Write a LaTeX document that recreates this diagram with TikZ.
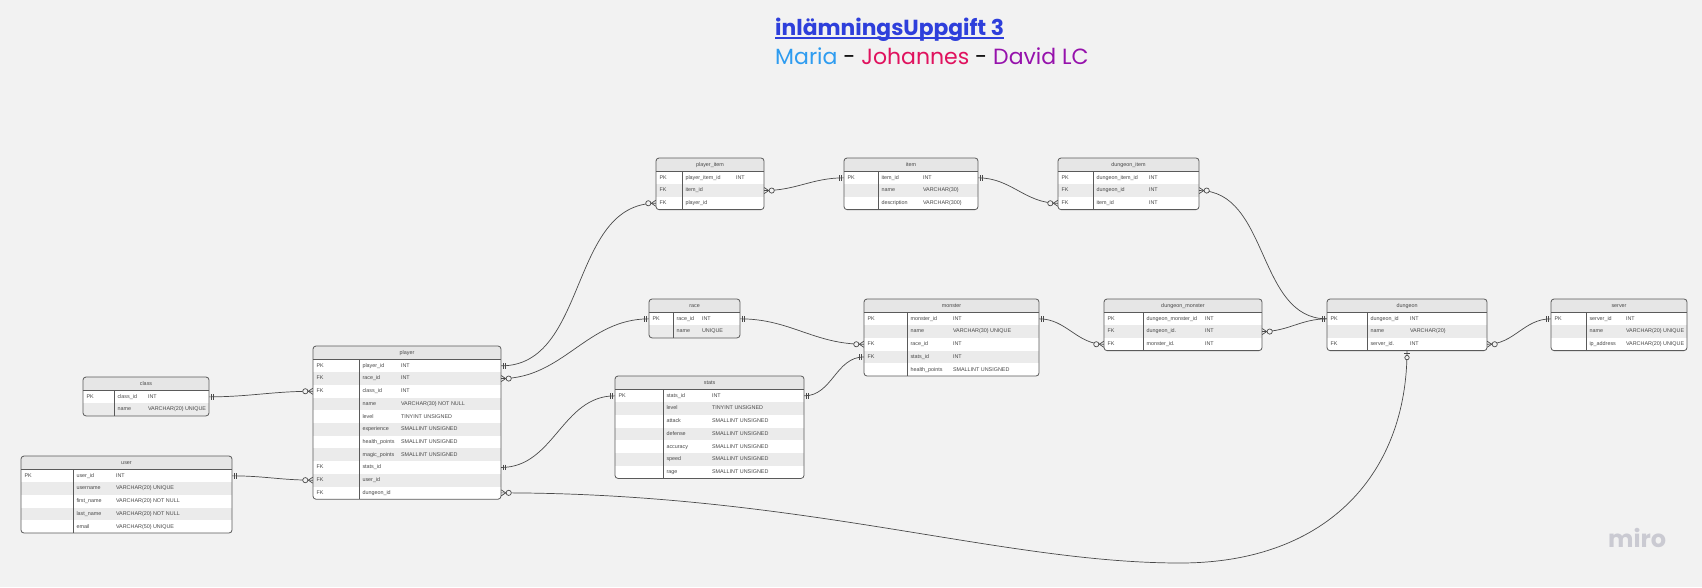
\documentclass[tikz,border=0pt]{standalone}
\usepackage{fontspec}
\setmainfont{Poppins}
\newfontfamily\tblfont{Liberation Sans}
\usetikzlibrary{positioning}

\definecolor{bgcol}{HTML}{F2F2F2}
\definecolor{linegray}{HTML}{4A4A4A}
\definecolor{boxgray}{HTML}{5A5A5A}
\definecolor{headgray}{HTML}{E6E6E6}
\definecolor{rowgray}{HTML}{EBEBEB}
\definecolor{txtgray}{HTML}{484848}
\definecolor{titleblue}{HTML}{2E3FDB}
\definecolor{maria}{HTML}{2E9CF0}
\definecolor{johannes}{HTML}{E0125E}
\definecolor{david}{HTML}{9612AC}
\definecolor{mirogray}{HTML}{CACAD2}

% #1 id, #2 title, #3 left, #4 top, #5 width, #6 key column, #7 type column, #8 rows
\newcommand{\ertable}[8]{%
  \foreach \rw [count=\cnt] in {#8} {\xdef\nrows{\cnt}}
  \pgfmathsetmacro{\tblh}{13.5+12.7*\nrows}
  \begin{scope}
    \clip[rounded corners=3pt] (#3,#4) rectangle ++(#5,\tblh);
    \node[tblhead,minimum width=#5pt] (#1) at (#3+#5/2,#4+6.75) {#2};
    \foreach \ky/\nm/\ty [count=\ri] in {#8} {
      \ifodd\ri\def\rowfill{white}\else\def\rowfill{rowgray}\fi
      \node[tblrow,fill=\rowfill,minimum width=#5pt] (#1-\ri) at (#3+#5/2,#4+7.15+12.7*\ri) {};
      \node[celltext] at ([xshift=3.5pt]#1-\ri.west) {\ky};
      \node[celltext] at ([xshift=#6pt+3.5pt]#1-\ri.west) {\nm};
      \node[celltext] at ([xshift=#7pt]#1-\ri.west) {\ty};
    }
  \end{scope}
  \draw[boxline] (#3,#4+13.5) -- ++(#5,0);
  \draw[boxline] (#3+#6,#4+13.5) -- (#3+#6,#4+\tblh);
  \draw[boxline,rounded corners=3pt] (#3,#4) rectangle ++(#5,\tblh);
}

\begin{document}
\begin{tikzpicture}[x=1pt,y=-1pt,
    rel/.style={draw=linegray,line width=0.7pt},
    boxline/.style={draw=boxgray,line width=0.8pt},
    tblhead/.style={rectangle,fill=headgray,inner sep=0,minimum height=13.5pt,
      font=\tblfont\fontsize{5.4}{6}\selectfont,text=txtgray},
    tblrow/.style={rectangle,inner sep=0,minimum height=12.7pt},
    celltext/.style={anchor=west,inner sep=0,text height=3.9pt,text depth=1.1pt,
      font=\tblfont\fontsize{5.4}{6}\selectfont,text=txtgray},
    onemark/.pic={\draw[rel] (2,-2.8) -- (2,2.8) (4.5,-2.8) -- (4.5,2.8);},
    manymark/.pic={\draw[rel] (0,-3) -- (4.5,0) -- (0,3);
      \draw[rel,fill=bgcol] (7.5,0) circle (2.6);},
    zeroonemark/.pic={\draw[rel] (2.5,-2.8) -- (2.5,2.8);
      \draw[rel,fill=bgcol] (6.8,0) circle (2.2);}]
  \useasboundingbox (0,0) rectangle (1702,587);
  \fill[bgcol] (0,0) rectangle (1702,587);

  \node[anchor=base west,inner sep=0,text=titleblue,
    font=\bfseries\fontsize{21.8}{26}\selectfont] (title) at (775,35) {inlämningsUppgift 3};
  \draw[titleblue,line width=2pt] ([yshift=-2.5pt]title.base west) -- ([yshift=-2.5pt]title.base east);
  \node[anchor=base west,inner sep=0,font=\fontsize{22}{26}\selectfont] (names) at (775,64)
    {\textcolor{maria}{Maria} - \textcolor{johannes}{Johannes} - \textcolor{david}{David LC}};
  \node[anchor=base west,inner sep=0,text=mirogray,
    font=\bfseries\fontsize{24}{24}\selectfont] (miro) at (1608,547) {miro};

  \ertable{class}{class}{83}{377}{126}{31}{65}{PK/class\_id/INT, {}/name/VARCHAR(20) UNIQUE}
  \ertable{user}{user}{21}{456}{211}{52}{95}{PK/user\_id/INT, {}/username/VARCHAR(20) UNIQUE,
    {}/first\_name/VARCHAR(20) NOT NULL, {}/last\_name/VARCHAR(20) NOT NULL, {}/email/VARCHAR(50) UNIQUE}
  \ertable{player}{player}{313}{346}{188}{46}{88}{PK/player\_id/INT, FK/race\_id/INT, FK/class\_id/INT,
    {}/name/VARCHAR(30) NOT NULL, {}/level/TINYINT UNSIGNED, {}/experience/SMALLINT UNSIGNED,
    {}/health\_points/SMALLINT UNSIGNED, {}/magic\_points/SMALLINT UNSIGNED,
    FK/stats\_id/{}, FK/user\_id/{}, FK/dungeon\_id/{}}
  \ertable{stats}{stats}{615}{376}{189}{48}{97}{PK/stats\_id/INT, {}/level/TINYINT UNSIGNED,
    {}/attack/SMALLINT UNSIGNED, {}/defense/SMALLINT UNSIGNED, {}/accuracy/SMALLINT UNSIGNED,
    {}/speed/SMALLINT UNSIGNED, {}/rage/SMALLINT UNSIGNED}
  \ertable{plitem}{player\_item}{656}{158}{108}{26}{80}{PK/player\_item\_id/INT, FK/item\_id/{}, FK/player\_id/{}}
  \ertable{item}{item}{844}{158}{134}{34}{79}{PK/item\_id/INT, {}/name/VARCHAR(30), {}/description/VARCHAR(300)}
  \ertable{dgitem}{dungeon\_item}{1058}{158}{141}{35}{91}{PK/dungeon\_item\_id/INT, FK/dungeon\_id/INT, FK/item\_id/INT}
  \ertable{race}{race}{649}{299}{91}{24}{53}{PK/race\_id/INT, {}/name/UNIQUE}
  \ertable{monster}{monster}{864}{299}{175}{43}{89}{PK/monster\_id/INT, {}/name/VARCHAR(30) UNIQUE,
    FK/race\_id/INT, FK/stats\_id/INT, {}/health\_points/SMALLINT UNSIGNED}
  \ertable{dgmonster}{dungeon\_monster}{1104}{299}{158}{39}{101}{PK/dungeon\_monster\_id/INT,
    FK/dungeon\_id./INT, FK/monster\_id./INT}
  \ertable{dungeon}{dungeon}{1327}{299}{160}{40}{83}{PK/dungeon\_id/INT, {}/name/VARCHAR(20), FK/server\_id./INT}
  \ertable{server}{server}{1551}{299}{136}{35}{75}{PK/server\_id/INT, {}/name/VARCHAR(20) UNIQUE,
    {}/ip\_address/VARCHAR(20) UNIQUE}

  \coordinate (dip) at (1180,563);
  \draw[rel] (player-1.east) .. controls +(87,0) and +(-87,0) .. (plitem-3.west);
  \draw[rel] (player-2.east) .. controls +(62,0) and +(-62,0) .. (race-1.west);
  \draw[rel] (class-1.east) .. controls +(40,0) and +(-40,0) .. (player-3.west);
  \draw[rel] (user-1.east) .. controls +(32,0) and +(-32,0) .. (player-10.west);
  \draw[rel] (player-9.east) .. controls +(53,0) and +(-53,0) .. (stats-1.west);
  \draw[rel] (player-11.east) .. controls +(299,0) and +(-180,0) .. (dip)
    .. controls +(150,0) and +(0,120) .. (dungeon-3.south);
  \draw[rel] (plitem-2.east) .. controls +(32,0) and +(-32,0) .. (item-1.west);
  \draw[rel] (item-1.east) .. controls +(33,0) and +(-33,0) .. (dgitem-3.west);
  \draw[rel] (dgitem-2.east) .. controls +(70,0) and +(-70,0) .. (dungeon-1.west);
  \draw[rel] (race-1.east) .. controls +(50,0) and +(-50,0) .. (monster-3.west);
  \draw[rel] (stats-1.east) .. controls +(28,0) and +(-28,0) .. (monster-4.west);
  \draw[rel] (monster-1.east) .. controls +(27,0) and +(-27,0) .. (dgmonster-3.west);
  \draw[rel] (dgmonster-2.east) .. controls +(26,0) and +(-26,0) .. (dungeon-1.west);
  \draw[rel] (dungeon-3.east) .. controls +(27,0) and +(-27,0) .. (server-1.west);

  \foreach \n in {player-1,player-9,class-1,user-1,item-1,race-1,stats-1,monster-1}
    \pic at (\n.east) {onemark};
  \foreach \n in {race-1,stats-1,item-1,dungeon-1,monster-4,server-1}
    \pic[xscale=-1] at (\n.west) {onemark};
  \foreach \n in {player-2,player-11,plitem-2,dgitem-2,dgmonster-2,dungeon-3}
    \pic at (\n.east) {manymark};
  \foreach \n in {plitem-3,player-3,player-10,dgitem-3,monster-3,dgmonster-3}
    \pic[xscale=-1] at (\n.west) {manymark};
  \pic[rotate=-90] at (dungeon-3.south) {zeroonemark};
\end{tikzpicture}
\end{document}
